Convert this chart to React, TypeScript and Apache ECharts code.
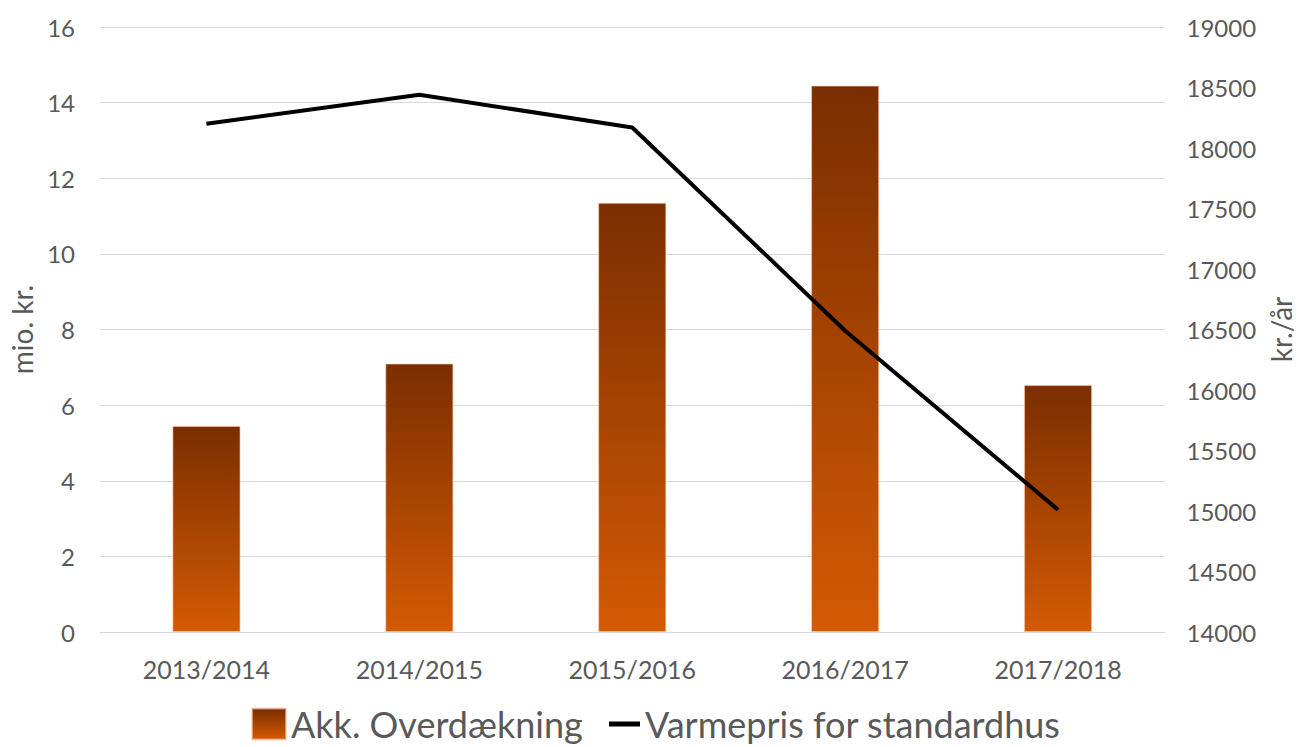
import React, { useEffect, useRef } from "react";
import * as echarts from "echarts";

const categories = ["2013/2014", "2014/2015", "2015/2016", "2016/2017", "2017/2018"];
const overdaekning = [5.45, 7.1, 11.35, 14.45, 6.53];
const varmepris = [18200, 18440, 18170, 16490, 15010];
const barName = "Akk. Overdækning";
const lineName = "Varmepris for standardhus";

export default function App() {
  const ref = useRef<HTMLDivElement>(null);
  useEffect(() => {
    if (!ref.current) return;
    const chart = echarts.init(ref.current, null, { renderer: "svg" });
    const font = "Lato, 'Open Sans', sans-serif";
    const grad = new echarts.graphic.LinearGradient(0, 0, 0, 1, [
      { offset: 0, color: "#7A2E00" },
      { offset: 1, color: "#D45A04" },
    ]);
    const legendText = { fontSize: 36, color: "#595959", fontFamily: font, lineHeight: 36 };
    chart.setOption({
      animation: false,
      backgroundColor: "#ffffff",
      textStyle: { fontFamily: font },
      grid: { left: 95, right: 128, top: 27, bottom: 115 },
      legend: [
        {
          bottom: 0,
          left: 246,
          itemWidth: 34,
          itemHeight: 31,
          textStyle: legendText,
          data: [{ name: barName, icon: "rect", itemStyle: { color: grad } }],
        },
        {
          bottom: 0,
          left: 604,
          itemWidth: 31,
          itemHeight: 5,
          textStyle: legendText,
          data: [{ name: lineName, icon: "rect", itemStyle: { color: "#000000" } }],
        },
      ],
      xAxis: {
        type: "category",
        data: categories,
        axisLine: { show: true, lineStyle: { color: "#d9d9d9", width: 1 } },
        axisTick: { show: false },
        axisLabel: { color: "#595959", fontSize: 25, margin: 24, fontFamily: font },
      },
      yAxis: [
        {
          type: "value",
          min: 0,
          max: 16,
          interval: 2,
          name: "mio. kr.",
          nameLocation: "middle",
          nameRotate: 90,
          nameGap: 64,
          nameTextStyle: { color: "#595959", fontSize: 28, fontFamily: font },
          axisLabel: { color: "#595959", fontSize: 24, margin: 25, fontFamily: font },
          axisLine: { show: false },
          axisTick: { show: false },
          splitLine: { lineStyle: { color: "#d9d9d9", width: 1 } },
        },
        {
          type: "value",
          min: 14000,
          max: 19000,
          interval: 500,
          name: "kr./år",
          nameLocation: "middle",
          nameRotate: 90,
          nameGap: 100,
          nameTextStyle: { color: "#595959", fontSize: 28, fontFamily: font },
          axisLabel: {
            color: "#595959",
            fontSize: 24,
            margin: 22,
            fontFamily: font,
            formatter: (v: number) => String(v),
          },
          axisLine: { show: false },
          axisTick: { show: false },
          splitLine: { show: false },
        },
      ],
      series: [
        {
          name: barName,
          type: "bar",
          data: overdaekning,
          barWidth: "32%",
          itemStyle: { color: grad, borderColor: "rgba(255,200,170,0.6)", borderWidth: 1 },
        },
        {
          name: lineName,
          type: "line",
          yAxisIndex: 1,
          data: varmepris,
          symbol: "none",
          lineStyle: { color: "#000000", width: 4 },
          itemStyle: { color: "#000000" },
        },
      ],
    });
    return () => chart.dispose();
  }, []);
  return (
    <div
      ref={ref}
      style={{ position: "fixed", left: 0, top: 0, width: 1303, height: 747 }}
    />
  );
}
